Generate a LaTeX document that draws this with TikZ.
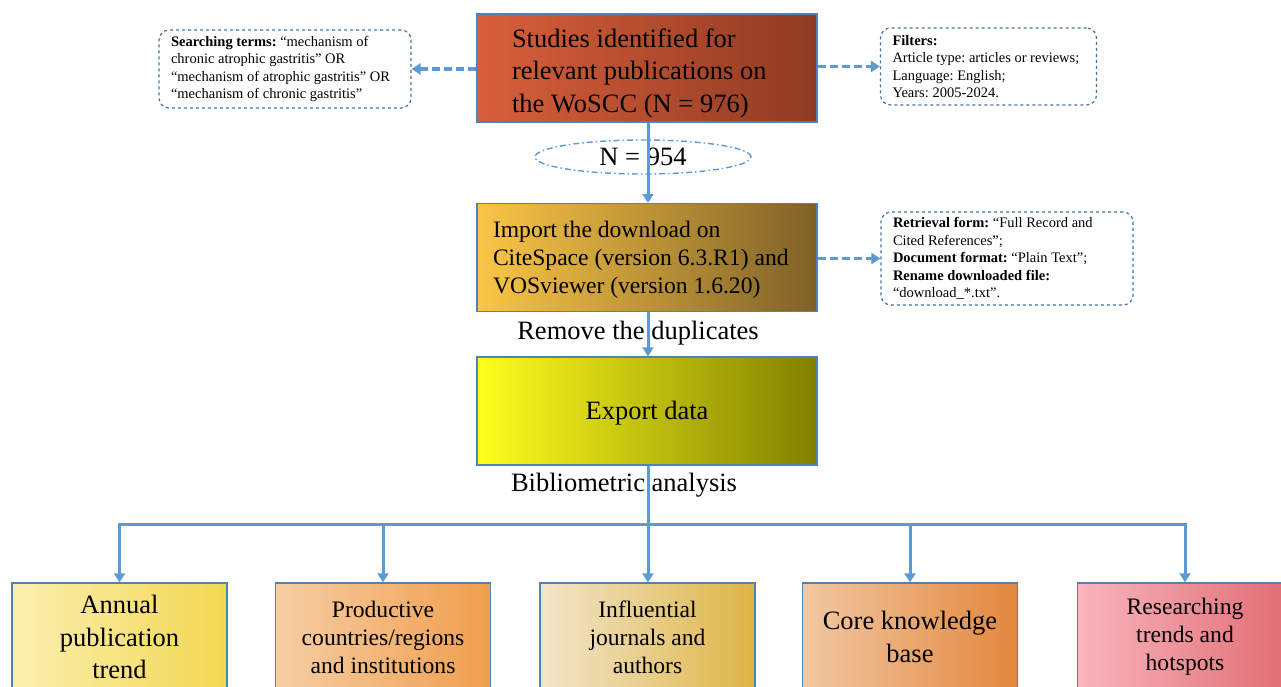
\documentclass[tikz,border=0pt]{standalone}
\usepackage{fontspec}
\setmainfont{Liberation Serif}
\usepackage{tikz}
\usetikzlibrary{arrows.meta,shapes.geometric,positioning}

\definecolor{flowblue}{HTML}{5B9BD5}
\definecolor{edgeblue}{HTML}{4F81BD}
\definecolor{sideblue}{HTML}{41719C}

\begin{document}
\frenchspacing
\begin{tikzpicture}[x=1pt,y=-1pt,
		box/.style={draw=edgeblue,line width=1.4pt,minimum width=340pt,minimum height=108pt,inner sep=0pt},
		outbox/.style={draw=edgeblue,line width=1.4pt,minimum width=215pt,minimum height=108pt,inner sep=0pt,align=center},
		note/.style={draw=sideblue,line width=1.2pt,dashed,rounded corners=10pt,inner xsep=12pt,inner ysep=0pt,align=flush left,font=\fontsize{14.5}{17.4}\selectfont},
		big/.style={font=\fontsize{26.5}{32.5}\selectfont},
		mid/.style={font=\fontsize{23.6}{28}\selectfont},
		flow/.style={draw=flowblue,line width=3pt,-{Triangle[width=11pt,length=9pt]}},
		side/.style={flow,line width=3.5pt,dash pattern=on 8pt off 4pt}]
				\useasboundingbox (0,0) rectangle (1281,686);

				% main column
				\node[box,big,align=flush left,text width=270pt,left color={rgb,255:red,217;green,95;blue,59},right color={rgb,255:red,142;green,58;blue,34}] (studies) at (647,68) {\rule{0pt}{29pt}Studies identified for\\relevant publications on\\the WoSCC (N = 976)};
				\node[ellipse,draw=flowblue,line width=1.4pt,dash pattern=on 6pt off 3pt on 1.5pt off 3pt,minimum width=216pt,minimum height=34pt,inner sep=0pt,big] (count) at (643,157) {N = 954};
				\node[box,mid,align=flush left,text width=308pt,left color={rgb,255:red,251;green,198;blue,70},right color={rgb,255:red,126;green,97;blue,39}] (import) at (647,257.5) {\rule{0pt}{21pt}Import the download on\\CiteSpace (version 6.3.R1) and\\VOSviewer (version 1.6.20)};
				\node[big] (remove) at (638,333) {Remove the duplicates};
				\node[box,big,left color={rgb,255:red,255;green,255;blue,30},right color={rgb,255:red,128;green,128;blue,0}] (export) at (647,411) {\rule{0pt}{22pt}Export data};
				\node[big] (biblio) at (624,485) {Bibliometric analysis};

				% notes
				\node[note,text width=228pt,minimum height=78pt] (search) at (285,69) {\textbf{Searching terms:} “mechanism of\\chronic atrophic gastritis” OR\\“mechanism of atrophic gastritis” OR\\“mechanism of chronic gastritis”};
				\node[note,text width=192pt,minimum height=77pt] (filters) at (988.5,66.5) {\textbf{Filters:}\\Article type: articles or reviews;\\Language: English;\\Years: 2005-2024.};
				\node[note,text width=228pt,minimum height=93pt] (form) at (1007,258.5) {\textbf{Retrieval form:} “Full Record and\\Cited References”;\\\textbf{Document format:} “Plain Text”;\\\textbf{Rename downloaded file:}\\“download\_*.txt”.};

				% results
				\node[outbox,big,left color={rgb,255:red,251;green,239;blue,176},right color={rgb,255:red,242;green,216;blue,82}] (annual) at (119.5,637) {Annual\\publication\\trend};
				\node[outbox,mid,left color={rgb,255:red,246;green,206;blue,164},right color={rgb,255:red,240;green,158;blue,76}] (countries) at (383,637) {Productive\\countries/regions\\and institutions};
				\node[outbox,mid,left color={rgb,255:red,242;green,230;blue,204},right color={rgb,255:red,221;green,181;blue,69}] (journals) at (647.5,637) {Influential\\journals and\\authors};
				\node[outbox,big,left color={rgb,255:red,242;green,200;blue,162},right color={rgb,255:red,226;green,135;blue,62}] (core) at (910,637) {Core knowledge\\base};
				\node[outbox,mid,left color={rgb,255:red,249;green,181;blue,190},right color={rgb,255:red,224;green,107;blue,114}] (trends) at (1185,637) {Researching\\trends and\\hotspots};

				\coordinate (bus) at (648,524);

				\draw[flow] (studies.south -| 648,0) -- (import.north -| 648,0);
				\draw[flow] (import.south -| 648,0) -- (export.north -| 648,0);
				\draw[side] (studies.west |- search.east) -- (search.east);
				\draw[side] (studies.east |- filters.west) -- (filters.west);
				\draw[side] (import.east |- form.west) -- (form.west);

				\draw[flow] (bus) -| (annual.north);
				\draw[flow] (bus) -| (trends.north);
				\draw[flow] (countries.north |- bus) -- (countries.north);
				\draw[flow] (core.north |- bus) -- (core.north);
				\draw[flow] (export.south -| 648,0) -- (journals.north -| 648,0);
		\end{tikzpicture}
\end{document}
